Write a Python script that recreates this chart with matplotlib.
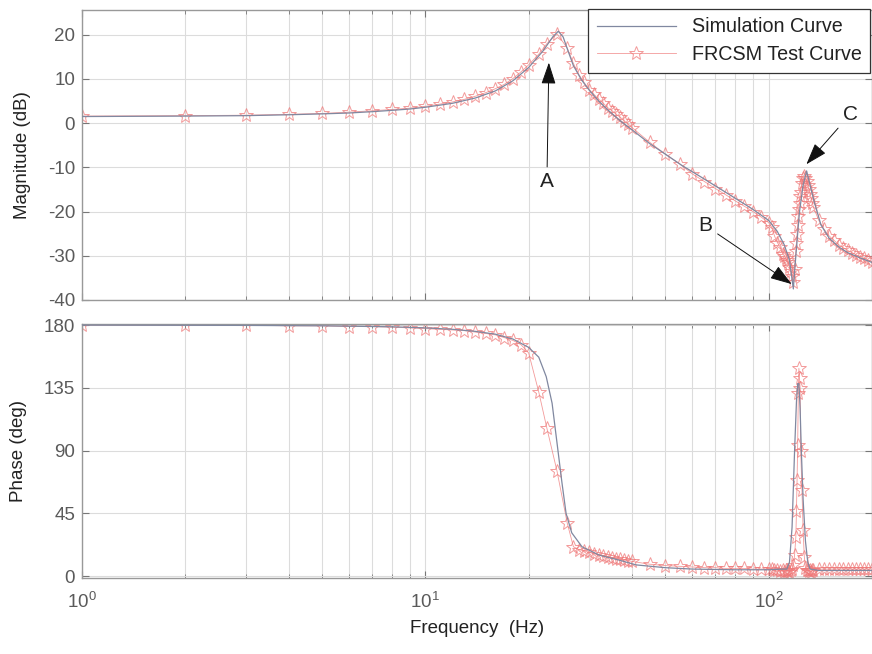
import matplotlib
matplotlib.use("Agg")
import matplotlib.pyplot as plt
from matplotlib.ticker import LogLocator, NullFormatter, LogFormatterMathtext

plt.rcParams['font.family'] = ['Liberation Sans', 'DejaVu Sans']
plt.rcParams['mathtext.fontset'] = 'custom'
plt.rcParams['mathtext.rm'] = 'Liberation Sans'
plt.rcParams['axes.unicode_minus'] = False

# ---------------- data ----------------
sim_freq = [1, 2, 3, 4, 5, 6, 7, 8, 9, 10, 12, 14, 16, 18, 20, 22, 23.5, 24.4, 25.2, 26, 27,
            28.5, 30, 32, 34, 37, 40, 45, 50, 56, 63, 70, 80, 90, 100, 106, 111, 115, 118,
            120, 123, 126, 129, 132, 136, 142, 150, 160, 170, 185, 200]
sim_mag = [1.5, 1.6, 1.7, 1.9, 2.1, 2.3, 2.6, 2.9, 3.2, 3.6, 4.5, 5.7, 7.3, 9.6, 12.6, 16.3,
           19.5, 20.8, 19.5, 16.5, 13.0, 9.8, 7.5, 5.0, 3.0, 0.5, -1.5, -4.6, -7.0, -9.6,
           -12.0, -14.2, -17.0, -19.5, -22.0, -24.5, -27.5, -31.0, -37.5, -30.0, -20.0,
           -14.0, -10.8, -14.0, -18.0, -23.0, -26.0, -28.0, -29.3, -30.5, -31.5]

simp_freq = [1, 3, 5, 8, 10, 12, 14, 16, 18, 20, 21.4, 22.5, 23.4, 24.2, 25.0, 25.7, 26.7,
             28.6, 32.1, 36.6, 41.1, 50, 60, 80, 100, 110, 113, 115, 117, 119, 120.5, 121.5,
             122.5, 123.5, 124.5, 126, 128, 130, 132, 140, 160, 200]
simp_phase = [180, 179.8, 179.5, 178.8, 178, 177, 175.5, 173.5, 170, 164, 157, 143, 124, 95,
              67, 45, 31, 21, 15, 11.5, 8, 6, 5, 4.5, 4.5, 5, 5, 10, 35, 90, 125, 138, 138,
              120, 90, 55, 25, 10, 5, 4, 4, 4]

test_freq = [1, 2, 3, 4, 5, 6, 7, 8, 9, 10, 11, 12, 13, 14, 15, 16, 17, 18, 19, 20, 21.4,
             22.6, 24.2, 25.9, 27, 28, 29, 30, 31, 32, 33, 34, 35, 36, 37, 38, 39, 40, 45,
             50, 55, 60, 65, 70, 75, 80, 85, 90, 95, 100, 102, 104, 106, 108, 110, 111, 112,
             113, 114, 115, 116, 117, 118, 119, 120, 120.5, 121, 121.5, 122, 122.5, 123,
             123.5, 124, 125, 126, 127, 128, 129, 130, 131, 132, 133, 134, 135, 140, 145,
             150, 155, 160, 165, 170, 175, 180, 185, 190, 195, 200]
test_mag = [1.6, 1.7, 1.8, 2.0, 2.2, 2.5, 2.8, 3.1, 3.4, 3.8, 4.3, 4.8, 5.4, 6.1, 6.9, 7.8,
            8.8, 10.1, 11.6, 13.2, 15.6, 18.0, 20.2, 17.0, 13.5, 11.0, 9.2, 7.6, 6.5, 5.4,
            4.5, 3.5, 2.8, 2.0, 1.3, 0.5, -0.2, -1.0, -4.3, -7.0, -9.2, -11.5, -13.2, -14.8,
            -16.2, -17.6, -18.8, -20.0, -21.2, -22.5, -23.5, -25.5, -27.0, -28.0, -29.5,
            -30.0, -30.5, -31.0, -31.5, -32.5, -33.5, -34.5, -36.0, -33.0, -29.0, -27.0,
            -25.0, -23.0, -21.0, -19.5, -18.0, -16.5, -15.5, -13.5, -12.5, -12.0, -12.5,
            -13.0, -14.0, -15.0, -16.0, -17.0, -18.0, -19.0, -22.0, -24.0, -25.5, -26.5,
            -27.5, -28.2, -28.8, -29.3, -29.8, -30.2, -30.6, -31.0, -31.3]
test_phase = [180, 180, 180, 179.5, 179.5, 179, 179, 178.5, 178, 177.5, 177, 176.5, 176,
              175, 174, 173, 171, 169, 166, 160, 132, 106, 75, 38,
              21, 19, 18, 17, 16, 15, 14.5, 14, 13, 12.5, 12, 11.5, 11, 10.5,
              8.5, 7.5, 7, 6.5, 6, 6, 5.5, 5.5, 5.5, 5, 5, 5,
              5, 4, 4.5, 3.5,
              4, 3, 4.5, 3.5, 4, 3, 4, 5, 8, 15, 28,
              47, 69, 94, 131, 149, 142, 135,
              90, 62, 33, 14, 6, 4, 4, 3.5, 4, 3, 4, 4.5,
              5, 5, 5, 5, 5, 5, 5, 5, 5, 5, 5, 5, 5]

mag_ticks = [-40, -30, -20, -10, 0, 10, 20]
phase_ticks = [0, 45, 90, 135, 180]

# ---------------- styling ----------------
sim_color = '#8088a0'
test_color = '#ef7878'
grid_color = '#dcdcdc'
tick_color = '#5a5a5a'
fs = 13.5

fig = plt.figure(figsize=(8.72, 6.54), dpi=100)
ax1 = fig.add_axes([82/872, (654-300)/654, 790/872, 290/654])
ax2 = fig.add_axes([82/872, (654-578)/654, 790/872, 254/654], sharex=ax1)

for ax in (ax1, ax2):
    ax.set_xscale('log')
    ax.set_xlim(1, 200)
    ax.xaxis.set_major_locator(LogLocator(base=10))
    ax.xaxis.set_minor_locator(LogLocator(base=10, subs=range(2, 10)))
    ax.xaxis.set_minor_formatter(NullFormatter())
    ax.grid(True, which='major', color=grid_color, lw=0.8)
    ax.grid(True, which='minor', axis='x', color=grid_color, lw=0.8)
    ax.set_axisbelow(True)
    ax.tick_params(which='both', direction='in', top=True, right=True,
                   colors='#777777', labelcolor=tick_color, labelsize=fs)
    ax.tick_params(which='major', length=5)
    ax.tick_params(which='minor', length=3)
    for s in ax.spines.values():
        s.set_color('#999999')
        s.set_linewidth(1.0)

# magnitude
ax1.plot(sim_freq, sim_mag, color=sim_color, lw=0.9, label='Simulation Curve', zorder=3)
ax1.plot(test_freq, test_mag, color=test_color, lw=0.6, alpha=0.75, marker='*',
         markersize=10, markerfacecolor='none', markeredgecolor=test_color,
         markeredgewidth=0.7, label='FRCSM Test Curve', zorder=2)
ax1.set_ylim(-40, 25.6)
ax1.set_yticks(mag_ticks)
ax1.tick_params(axis='y', pad=5)
plt.setp(ax1.get_xticklabels(), visible=False)
ax1.set_ylabel('Magnitude (dB)', fontsize=fs, color='#222222')
ax1.yaxis.set_label_coords(-0.064, 0.5)

leg = ax1.legend(loc='upper right', bbox_to_anchor=(0.998, 1.005), borderaxespad=0,
                 fontsize=14.2, handlelength=4.0, fancybox=False, framealpha=1,
                 edgecolor='#333333', labelspacing=0.45, borderpad=0.45)
leg.get_frame().set_linewidth(0.9)
for t in leg.get_texts():
    t.set_color('#222222')

arrow_kw = dict(arrowstyle='-|>,head_length=0.9,head_width=0.3', color='#111111',
                lw=0.7, shrinkA=2, shrinkB=0)
ax1.annotate('A', xy=(22.9, 13.7), xytext=(22.6, -13.3), fontsize=15, color='#222222',
             ha='center', va='center', arrowprops=arrow_kw)
ax1.annotate('B', xy=(116.7, -36.4), xytext=(65.5, -23.2), fontsize=15, color='#222222',
             ha='center', va='center', arrowprops=arrow_kw)
ax1.annotate('C', xy=(128.8, -9.3), xytext=(172.8, 2.0), fontsize=15, color='#222222',
             ha='center', va='center', arrowprops=arrow_kw)

# phase
ax2.plot(simp_freq, simp_phase, color=sim_color, lw=0.9, zorder=3)
ax2.plot(test_freq, test_phase, color=test_color, lw=0.6, alpha=0.75, marker='*',
         markersize=10, markerfacecolor='none', markeredgecolor=test_color,
         markeredgewidth=0.7, zorder=2)
ax2.set_ylim(-1.4, 180.8)
ax2.set_yticks(phase_ticks)
ax2.tick_params(axis='y', pad=5)
ax2.tick_params(axis='x', which='major', pad=10)
ax2.xaxis.set_major_formatter(LogFormatterMathtext())
ax2.set_ylabel('Phase (deg)', fontsize=fs, color='#222222')
ax2.yaxis.set_label_coords(-0.07, 0.5)
ax2.set_xlabel('Frequency  (Hz)', fontsize=fs, color='#222222', labelpad=6)

fig.savefig('out.png', dpi=100)
